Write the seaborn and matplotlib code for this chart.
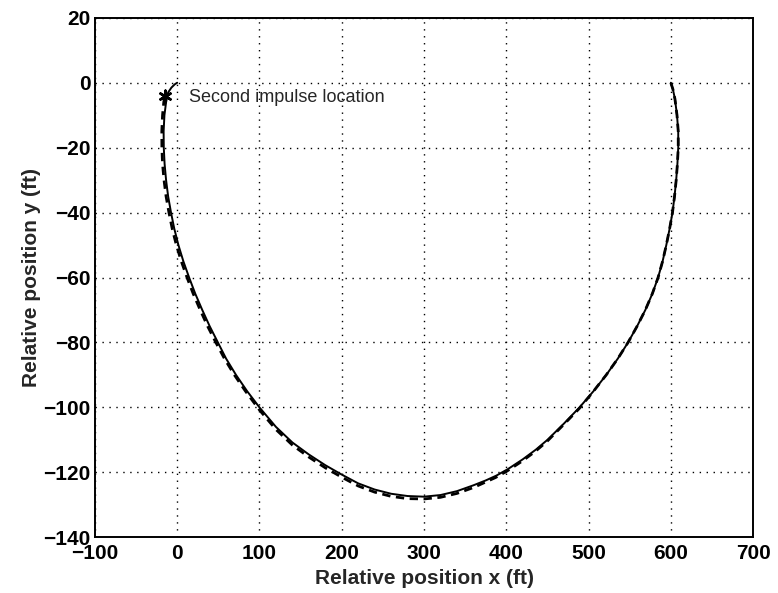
import matplotlib
matplotlib.use("Agg")
import matplotlib.pyplot as plt
import seaborn as sns
import pandas as pd

# Nominal relative-motion trajectory (ft): down the far side, along the
# bottom, and back up to the target at the origin
nominal_x = [600, 602.5, 605, 607.5, 609, 609, 608, 606.5, 604.5, 602,
             598.5, 594.5, 590, 584.5, 577.5, 569, 559, 548, 535.5, 521.5,
             506, 489, 470, 450, 436, 420, 402, 388, 375,
             360, 340, 320, 300, 280, 260, 240, 220, 200, 180, 160,
             140, 120, 100,
             85, 71.5, 59.5, 49.5, 39.5, 30.5, 22, 14.5, 7.5, 1.5, -3.5,
             -7.5, -11, -13.5, -15.3, -16.3, -16.5, -15.5, -13.5, -11, -7,
             -3, 0]
nominal_y = [0, -2, -5, -10, -15, -20, -25, -30, -35, -40,
             -45, -50, -55, -60, -65, -70, -75, -80, -85, -90,
             -95, -100, -105, -110, -113, -116, -119, -121, -122.5,
             -124, -125.8, -127, -127.5, -127.3, -126.6, -125.3,
             -123.4, -120.7, -117.8, -114.5, -110.8, -106, -100,
             -95, -90, -85, -80, -75, -70, -65, -60, -55, -50, -45,
             -40, -35, -30, -25, -20, -15, -10, -6, -3, -1.5,
             -0.5, 0]

# Actual trajectory flown up to the second burn
actual_x = [600, 602.5, 605, 607.5, 609, 609, 608, 606.5, 604.5, 602,
            598.5, 594.5, 590, 584.5, 577.5, 569, 559, 548, 535.5, 521.5,
            505.5, 488.5, 469, 449, 435, 419, 401, 387, 374,
            360, 340, 320, 300, 280, 260, 240, 220, 200, 180, 160,
            140, 120, 100,
            83, 69.5, 57.5, 47, 37, 28, 19.5, 12, 5, -1, -6,
            -10, -13.5, -16, -17.8, -18.6, -18.7, -17.8, -16.3, -15]
actual_y = [0, -2, -5, -10, -15, -20, -25, -30, -35, -40,
            -45, -50, -55, -60, -65, -70, -75, -80, -85, -90,
            -95.2, -100.4, -105.5, -110.6, -113.6, -116.6, -119.6, -121.6,
            -123.1,
            -124.7, -126.5, -127.7, -128.2, -128.1, -127.4, -126.1,
            -124.2, -121.5, -118.6, -115.3, -111.6, -106.8, -100.8,
            -95, -90, -85, -80, -75, -70, -65, -60, -55, -50, -45,
            -40, -35, -30, -25, -20, -15, -10, -6, -4]

impulse_x = [-15]
impulse_y = [-4]
impulse_label = "Second impulse location"

x_ticks = [-100, 0, 100, 200, 300, 400, 500, 600, 700]
y_ticks = [20, 0, -20, -40, -60, -80, -100, -120, -140]

sns.set_style("white")
plt.rcParams["font.family"] = ["Liberation Sans", "DejaVu Sans"]

fig = plt.figure(figsize=(7.78, 5.93), dpi=100)
ax = fig.add_axes([0.122, 0.094, 0.846, 0.876])

nominal = pd.DataFrame({"x": nominal_x, "y": nominal_y})
actual = pd.DataFrame({"x": actual_x, "y": actual_y})

sns.lineplot(data=nominal, x="x", y="y", sort=False, estimator=None,
             color="black", linewidth=1.4, ax=ax)
sns.lineplot(data=actual, x="x", y="y", sort=False, estimator=None,
             color="black", linewidth=2.0, linestyle=(0, (3, 2)), ax=ax)
sns.scatterplot(x=impulse_x, y=impulse_y, marker=(6, 2, 0), s=70,
                color="black", edgecolor="black", linewidth=1.8, ax=ax,
                zorder=5)
ax.annotate(impulse_label, xy=(impulse_x[0], impulse_y[0]),
            xytext=(24, -2), textcoords="offset pixels", fontsize=13,
            va="center", ha="left")

ax.set_xlim(-100, 700)
ax.set_ylim(-140, 20)
ax.set_xticks(x_ticks)
ax.set_yticks(y_ticks)
ax.set_xticklabels([f"{v:d}".replace("-", "\u2212") for v in x_ticks],
                   fontweight="bold")
ax.set_yticklabels([f"{v:d}".replace("-", "\u2212") for v in y_ticks],
                   fontweight="bold")
ax.grid(True, color="black", linestyle=(0, (1, 4)), linewidth=1.0)
ax.tick_params(direction="in", length=5, width=1.0, labelsize=15,
               colors="black")
ax.tick_params(axis="x", pad=5)
ax.tick_params(axis="y", pad=3)
for sp in ax.spines.values():
    sp.set_linewidth(1.4)
    sp.set_color("black")
    sp.set_visible(True)

ax.set_xlabel("Relative position x (ft)", fontsize=15, fontweight="bold",
              labelpad=4)
ax.set_ylabel("Relative position y (ft)", fontsize=15, fontweight="bold",
              labelpad=2)

fig.savefig("out.png", dpi=100, facecolor="white")
